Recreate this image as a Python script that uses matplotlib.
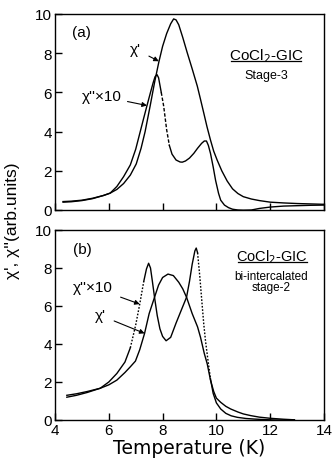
import numpy as np
import matplotlib
matplotlib.use("Agg")
import matplotlib.pyplot as plt

plt.rcParams['font.family'] = ['Liberation Sans', 'DejaVu Sans']

# (a) CoCl2-GIC stage-3
t_a_chi1 = [4.3, 4.6, 5.0, 5.4, 5.8, 6.05, 6.3, 6.55, 6.8, 7.02, 7.2, 7.35, 7.54, 7.7,
            7.86, 8.0, 8.15, 8.3, 8.41, 8.5, 8.6, 8.75, 8.91, 9.1, 9.29, 9.4, 9.53,
            9.65, 9.78, 9.9, 10.03, 10.2, 10.4, 10.6, 10.8, 11.0, 11.3, 11.6, 12.0,
            12.5, 13.0, 13.5, 14.0]
a_chi1 = [0.40, 0.42, 0.48, 0.58, 0.74, 0.86, 1.05, 1.35, 1.78, 2.35, 3.15, 4.0, 5.33, 6.5,
          7.55, 8.35, 9.0, 9.5, 9.75, 9.7, 9.45, 8.8, 8.05, 7.2, 6.32, 5.7, 4.95,
          4.25, 3.57, 3.0, 2.54, 2.0, 1.48, 1.08, 0.84, 0.68, 0.56, 0.48, 0.40,
          0.36, 0.33, 0.31, 0.29]
t_a_chi2 = [4.3, 4.6, 5.0, 5.4, 5.8, 6.05, 6.3, 6.55, 6.8, 7.0, 7.15, 7.3, 7.42, 7.55,
            7.65, 7.72, 7.79, 7.85, 7.95, 8.04, 8.15, 8.25, 8.35, 8.5, 8.65, 8.73,
            8.85, 9.0, 9.16, 9.3, 9.45, 9.55, 9.63, 9.7, 9.78, 9.88, 9.97, 10.08,
            10.16, 10.3, 10.45, 10.6, 10.8, 11.0, 11.3, 11.6, 12.0, 12.5, 13.0, 13.5, 14.0]
a_chi2 = [0.43, 0.45, 0.50, 0.60, 0.74, 0.86, 1.2, 1.7, 2.3, 3.1, 3.9, 4.7, 5.33, 6.0,
          6.5, 6.8, 6.91, 6.75, 6.0, 5.3, 4.1, 3.3, 2.85, 2.55, 2.45, 2.44,
          2.5, 2.65, 2.89, 3.15, 3.4, 3.52, 3.52, 3.3, 2.89, 2.2, 1.51, 0.85,
          0.5, 0.25, 0.12, 0.04, 0.0, -0.01, 0.0, 0.08, 0.15, 0.2, 0.22, 0.24, 0.25]

# (b) CoCl2-GIC bi-intercalated stage-2
t_b_chi1 = [4.44, 4.8, 5.2, 5.68, 6.0, 6.3, 6.6, 6.8, 6.99, 7.15, 7.33, 7.5, 7.7, 7.85,
            8.0, 8.2, 8.4, 8.6, 8.75, 8.89, 9.1, 9.3, 9.41, 9.55, 9.66, 9.78, 9.9,
            10.0, 10.16, 10.35, 10.53, 10.8, 11.0, 11.28, 11.6, 12.0, 12.5, 12.9]
b_chi1 = [1.2, 1.3, 1.45, 1.67, 1.85, 2.1, 2.5, 2.8, 3.1, 3.7, 4.56, 5.6, 6.46, 7.1,
          7.5, 7.68, 7.6, 7.25, 6.9, 6.46, 5.6, 4.9, 4.35, 3.5, 2.95, 2.1, 1.5,
          1.15, 0.93, 0.72, 0.58, 0.42, 0.32, 0.23, 0.15, 0.09, 0.04, 0.01]
t_b_chi2 = [4.44, 4.8, 5.2, 5.68, 6.0, 6.3, 6.6, 6.8, 7.0, 7.15, 7.3, 7.4, 7.48, 7.55,
            7.62, 7.7, 7.8, 7.9, 8.0, 8.13, 8.3, 8.5, 8.7, 8.89, 9.0, 9.1, 9.2,
            9.25, 9.3, 9.38, 9.45, 9.53, 9.6, 9.7, 9.78, 9.88, 10.0, 10.16, 10.35,
            10.55, 10.78, 11.1, 11.4, 11.8, 12.2, 12.9]
b_chi2 = [1.3, 1.38, 1.5, 1.67, 2.0, 2.45, 3.05, 3.8, 5.0, 6.1, 7.3, 7.95, 8.25, 8.0,
          7.3, 6.46, 5.5, 4.8, 4.4, 4.17, 4.35, 5.1, 5.8, 6.46, 7.3, 8.2, 8.9,
          9.05, 8.8, 7.6, 6.4, 5.05, 4.1, 3.0, 2.16, 1.4, 0.9, 0.58, 0.35,
          0.22, 0.14, 0.08, 0.05, 0.02, 0.0, 0.0]

W, H = 333, 464
fig = plt.figure(figsize=(W / 100, H / 100), dpi=100)


def box(l, t, r, b):
    return [l / W, 1 - b / H, (r - l) / W, (b - t) / H]


ax_a = fig.add_axes(box(55, 15, 324, 211))
ax_b = fig.add_axes(box(55, 231, 324, 421))

LW = 1.0


def draw(ax, t, v, broken=(), dash=(0, (1.2, 1.2))):
    """Solid trace, with the fast-sweeping temperature windows drawn broken."""
    t = np.asarray(t)
    v = np.asarray(v)
    edges = [t[0]]
    for lo, hi in broken:
        edges += [lo, hi]
    edges.append(t[-1])
    for i in range(len(edges) - 1):
        lo, hi = edges[i], edges[i + 1]
        m = (t >= lo) & (t <= hi)
        ls = '-' if i % 2 == 0 else dash
        ax.plot(t[m], v[m], color='black', lw=LW, ls=ls)


draw(ax_a, t_a_chi1, a_chi1)
draw(ax_a, t_a_chi2, a_chi2, broken=[(7.95, 8.25)], dash=(0, (2.5, 1.3)))
draw(ax_b, t_b_chi1, b_chi1)
draw(ax_b, t_b_chi2, b_chi2, broken=[(6.8, 7.3), (9.3, 9.78)])

for ax in (ax_a, ax_b):
    ax.set_xlim(4, 14)
    ax.set_ylim(0, 10)
    ax.set_xticks([4, 6, 8, 10, 12, 14])
    ax.set_yticks([0, 2, 4, 6, 8, 10])
    ax.tick_params(direction='in', length=5, width=1.0, labelsize=11,
                   top=False, right=False, pad=2)
    for s in ax.spines.values():
        s.set_linewidth(1.0)

ax_a.tick_params(labelbottom=False)

txt = dict(color='black', ha='center', va='center')
arrow = dict(arrowstyle='-|>', color='black', lw=0.8, mutation_scale=7,
             shrinkA=4, shrinkB=0)

# panel (a) labels
ax_a.text(0.1, 0.91, '(a)', transform=ax_a.transAxes, fontsize=11, **txt)
ax_a.text(0.785, 0.79, 'CoCl$_2$-GIC', transform=ax_a.transAxes, fontsize=11, **txt)
ax_a.plot([0.655, 0.915], [0.76, 0.76], transform=ax_a.transAxes, color='black', lw=0.9)
ax_a.text(0.785, 0.69, 'Stage-3', transform=ax_a.transAxes, fontsize=9, **txt)
ax_a.annotate("χ'", xy=(7.86, 7.59), xytext=(7.0, 8.2), fontsize=11,
              ha='center', va='center', arrowprops=arrow)
ax_a.annotate("χ''×10", xy=(7.42, 5.33), xytext=(5.75, 5.8), fontsize=11,
              ha='center', va='center', arrowprops=dict(arrow, shrinkA=2))

# panel (b) labels
ax_b.text(0.1, 0.9, '(b)', transform=ax_b.transAxes, fontsize=11, **txt)
ax_b.text(0.805, 0.86, 'CoCl$_2$-GIC', transform=ax_b.transAxes, fontsize=10.5, **txt)
ax_b.plot([0.68, 0.935], [0.83, 0.83], transform=ax_b.transAxes, color='black', lw=0.9)
ax_b.text(0.805, 0.76, 'bi-intercalated', transform=ax_b.transAxes, fontsize=8.5, **txt)
ax_b.text(0.805, 0.70, 'stage-2', transform=ax_b.transAxes, fontsize=8.5, **txt)
ax_b.annotate("χ''×10", xy=(7.15, 6.1), xytext=(5.4, 7.0), fontsize=11,
              ha='center', va='center', arrowprops=arrow)
ax_b.annotate("χ'", xy=(7.33, 4.56), xytext=(5.7, 5.5), fontsize=11,
              ha='center', va='center', arrowprops=arrow)

ax_b.set_xlabel('Temperature (K)', fontsize=13.5, family='DejaVu Sans', labelpad=1)
fig.text(13 / W, 1 - 221 / H, "χ', χ''(arb.units)", rotation=90,
         fontsize=12.5, ha='center', va='center')

fig.savefig('out.png', dpi=100)
